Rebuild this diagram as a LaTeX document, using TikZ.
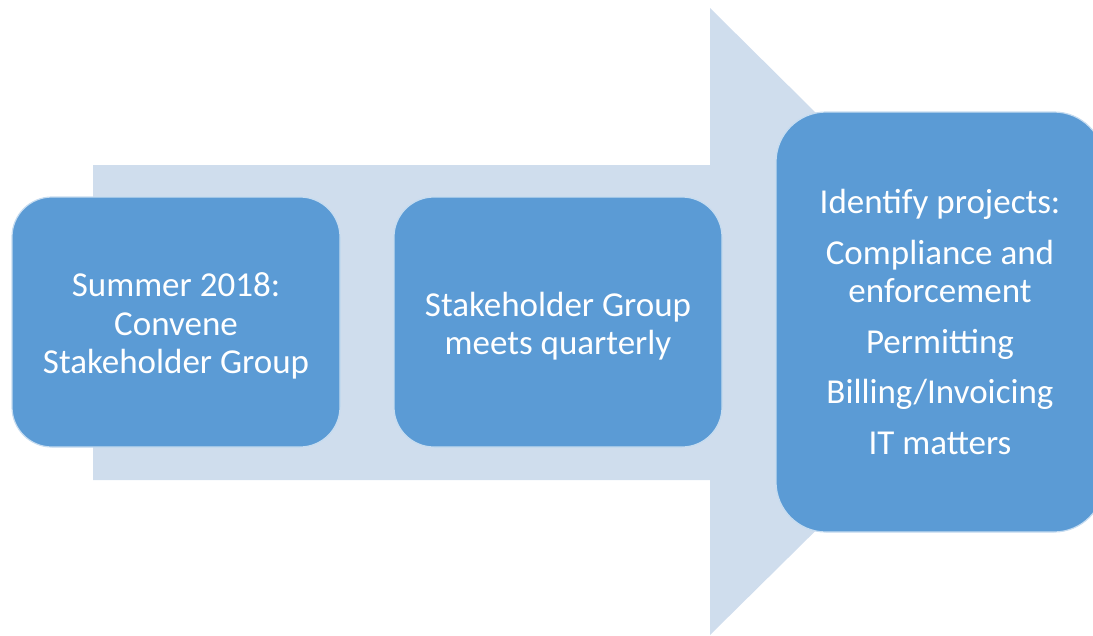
\documentclass[tikz,border=0pt]{standalone}
\usepackage{fontspec}
\setmainfont{Carlito}
\definecolor{arrowblue}{HTML}{CFDDED}
\definecolor{boxblue}{HTML}{5B9BD5}
\begin{document}
\begin{tikzpicture}[x=1pt,y=-1pt,
  stage/.style={fill=boxblue, draw=white!65!boxblue, line width=1.2pt, inner sep=0pt},
  small/.style={stage, rounded corners=40pt, minimum width=328pt, minimum height=250pt},
  big/.style={stage, rounded corners=50pt, minimum width=328pt, minimum height=420pt},
  txt/.style={text=white, align=center, inner sep=0pt, yshift=-4pt,
    font=\fontsize{35}{38.5}\selectfont}]
\useasboundingbox (0,0) rectangle (1093,635);
\fill[arrowblue] (93,165) -- (710,165) -- (710,8) -- (1027,322) -- (710,635) -- (710,480) -- (93,480) -- cycle;
\node[small] (b1) at (176,322) {};
\node[small] (b2) at (558,322) {};
\node[big] (b3) at (940,322) {};
\node[txt] (t1) at (b1.center) {Summer 2018:\\Convene\\Stakeholder Group};
\node[txt] (t2) at (b2.center) {Stakeholder Group\\meets quarterly};
\node[txt, yshift=4pt] (t3) at (b3.center) {Identify projects:\\[12pt]Compliance and\\enforcement\\[12pt]Permitting\\[12pt]Billing/Invoicing\\[12pt]IT matters};
\end{tikzpicture}
\end{document}
